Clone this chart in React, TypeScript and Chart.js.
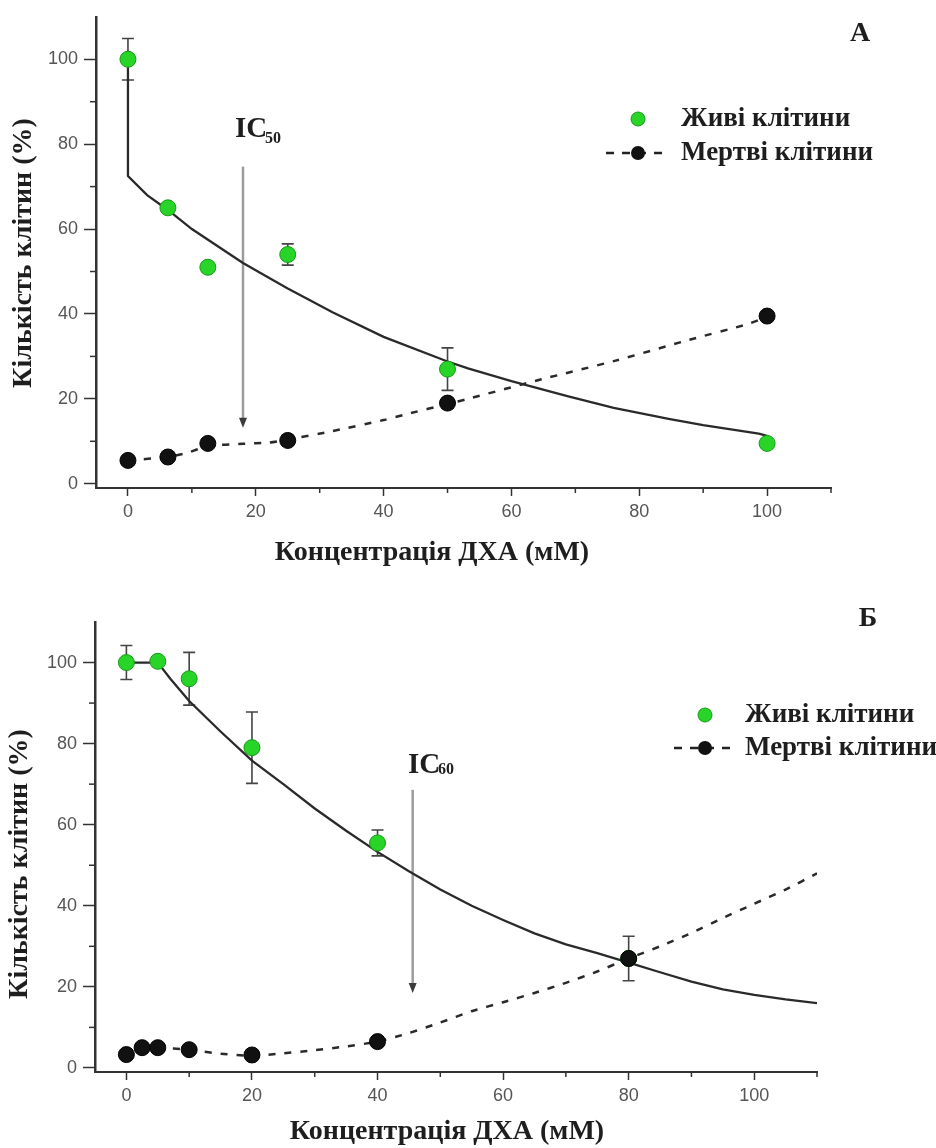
import React, { useEffect, useRef } from 'react';
import { Chart, registerables } from 'chart.js';

Chart.register(...registerables);

// ---------- Panel A data ----------
const concA = [0, 6.25, 12.5, 25, 50, 100];
const liveA = [100, 65, 51, 54, 27, 9.5];
const liveErrA = [4.9, 0.6, 1, 2.5, 5, 0.6];
const deadA = [5.5, 6.3, 9.5, 10.2, 19, 39.5];
const deadErrA = [0.6, 0.6, 0.8, 1.2, 1.2, 0.8];
const liveFitXA = [0, 0, 3, 6.25, 10, 15, 18, 21.7, 25, 28.4, 32, 40, 50, 53.2, 60, 68.9, 76, 84.6, 90, 98.7, 100];
const liveFitYA = [100, 72.5, 68, 64.5, 60, 55, 52, 48.8, 46, 43.3, 40.4, 34.6, 28.8, 27.2, 24.2, 20.6, 17.9, 15.3, 13.8, 11.8, 11.3];
const deadFitXA = [0, 6.25, 9.3, 12.5, 18, 22, 25, 32, 40, 43.6, 50, 53.2, 64.7, 76.3, 87.8, 96.7, 100];
const deadFitYA = [5.5, 6.3, 7.3, 8.9, 9.4, 9.7, 10.4, 12.4, 15, 16.4, 18.8, 20, 24.6, 29, 33.9, 37.5, 39.3];

// ---------- Panel B data ----------
const concLiveB = [0, 5, 10, 20, 40, 80];
const liveB = [100, 100.3, 96, 79, 55.5, 27];
const liveErrB = [4.2, 0.6, 6.5, 8.8, 3.2, 5.5];
const concDeadB = [0, 2.5, 5, 10, 20, 40, 80];
const deadB = [3.3, 5, 5, 4.5, 3.2, 6.5, 27];
const deadErrB = [0.8, 0.5, 0.5, 0.8, 0.8, 1, 0];
const liveFitXB = [0, 5, 7, 10, 15, 20, 25, 30, 35, 40, 45, 50, 55, 60, 65, 70, 75, 80, 85, 90, 95, 100, 105, 110];
const liveFitYB = [100, 100, 96, 90.5, 83, 75.8, 70, 64, 58.5, 53.3, 48.5, 44, 40, 36.5, 33.2, 30.5, 28.3, 26, 23.6, 21.3, 19.4, 18, 16.9, 16];
const deadFitXB = [0, 2.5, 5, 10, 15, 20, 25, 30, 35, 40, 45, 50, 55, 60, 65, 70, 75, 80, 85, 90, 95, 100, 105, 110];
const deadFitYB = [3.3, 5, 5, 4.5, 3.5, 3, 3.6, 4.4, 5.3, 6.5, 8.6, 11.2, 14, 16.2, 18.5, 21, 23.8, 27, 30, 33.3, 37, 40.5, 44, 48];

// ---------- Axes / labels ----------
const xTickValues = [0, 20, 40, 60, 80, 100];
const yTickValues = [0, 20, 40, 60, 80, 100];
const xMinorValues = [10, 30, 50, 70, 90, 110];
const yMinorValues = [10, 30, 50, 70, 90];
const xTitle = 'Концентрація ДХА (мМ)';
const yTitle = 'Кількість клітин (%)';
const liveLabel = 'Живі клітини';
const deadLabel = 'Мертві клітини';

const SERIF = '"Liberation Serif", "Times New Roman", serif';
const SANS = '"Liberation Sans", Arial, sans-serif';
const GREEN = '#27d427';
const GREEN_EDGE = '#169a16';
const INK = '#1e1e1e';

type Panel = {
  letter: string;
  liveX: number[]; liveY: number[]; liveErr: number[];
  deadX: number[]; deadY: number[]; deadErr: number[];
  liveFitX: number[]; liveFitY: number[];
  deadFitX: number[]; deadFitY: number[];
  icValue: number; icTop: number; icBottom: number; icSub: string;
  layout: {
    padTop: number; padRight: number; yW: number; xH: number;
    xTitle: [number, number]; yTitle: [number, number];
    letter: [number, number];
    legMarkerX: number; legRow1: number; legRow2: number; legTextX: number; legDash: [number, number];
    icText: [number, number]; icSubText: [number, number];
  };
};

const panelA: Panel = {
  letter: 'А',
  liveX: concA, liveY: liveA, liveErr: liveErrA,
  deadX: concA, deadY: deadA, deadErr: deadErrA,
  liveFitX: liveFitXA, liveFitY: liveFitYA,
  deadFitX: deadFitXA, deadFitY: deadFitYA,
  icValue: 18, icTop: 74.7, icBottom: 13.2, icSub: '50',
  layout: {
    padTop: 15, padRight: 105, yW: 96, xH: 92,
    xTitle: [432, 553], yTitle: [24, 253],
    letter: [860, 34],
    legMarkerX: 638, legRow1: 119, legRow2: 153, legTextX: 681, legDash: [606, 669],
    icText: [235, 137], icSubText: [265, 143],
  },
};

const panelB: Panel = {
  letter: 'Б',
  liveX: concLiveB, liveY: liveB, liveErr: liveErrB,
  deadX: concDeadB, deadY: deadB, deadErr: deadErrB,
  liveFitX: liveFitXB, liveFitY: liveFitYB,
  deadFitX: deadFitXB, deadFitY: deadFitYB,
  icValue: 45.6, icTop: 68.6, icBottom: 18.5, icSub: '60',
  layout: {
    padTop: 42, padRight: 119, yW: 95, xH: 76,
    xTitle: [447, 552], yTitle: [20, 284],
    letter: [868, 39],
    legMarkerX: 705, legRow1: 135, legRow2: 168, legTextX: 745, legDash: [674, 732],
    icText: [408, 193], icSubText: [438, 194],
  },
};

const pts = (xs: number[], ys: number[]) => xs.map((x, i) => ({ x, y: ys[i] }));

function panelPlugin(p: Panel) {
  const L = p.layout;
  return {
    id: 'panelDecor' + (p === panelA ? 'A' : 'B'),
    beforeDatasetsDraw(chart: any) {
      const { ctx, scales } = chart;
      const x = scales.x, y = scales.y;
      ctx.save();
      // IC arrow
      const ax = x.getPixelForValue(p.icValue);
      const ay1 = y.getPixelForValue(p.icTop);
      const ay2 = y.getPixelForValue(p.icBottom);
      ctx.strokeStyle = '#9c9c9c';
      ctx.lineWidth = 2.5;
      ctx.beginPath();
      ctx.moveTo(ax, ay1);
      ctx.lineTo(ax, ay2 - 8);
      ctx.stroke();
      ctx.fillStyle = '#3a3a3a';
      ctx.beginPath();
      ctx.moveTo(ax - 4, ay2 - 10);
      ctx.lineTo(ax + 4, ay2 - 10);
      ctx.lineTo(ax, ay2);
      ctx.closePath();
      ctx.fill();
      // error bars
      const drawErr = (xs: number[], ys: number[], es: number[], color: string) => {
        ctx.strokeStyle = color;
        ctx.lineWidth = 1.6;
        xs.forEach((xv, i) => {
          const e = es[i];
          if (!e) return;
          const px = x.getPixelForValue(xv);
          const top = y.getPixelForValue(ys[i] + e);
          const bot = y.getPixelForValue(ys[i] - e);
          ctx.beginPath();
          ctx.moveTo(px, top); ctx.lineTo(px, bot);
          ctx.moveTo(px - 6, top); ctx.lineTo(px + 6, top);
          ctx.moveTo(px - 6, bot); ctx.lineTo(px + 6, bot);
          ctx.stroke();
        });
      };
      drawErr(p.liveX, p.liveY, p.liveErr, '#444');
      drawErr(p.deadX, p.deadY, p.deadErr, '#444');
      ctx.restore();
    },
    afterDraw(chart: any) {
      const { ctx, scales, chartArea } = chart;
      const x = scales.x, y = scales.y;
      ctx.save();
      // minor ticks
      ctx.strokeStyle = '#333';
      ctx.lineWidth = 1.5;
      xMinorValues.forEach((v) => {
        const px = x.getPixelForValue(v);
        ctx.beginPath();
        ctx.moveTo(px, chartArea.bottom);
        ctx.lineTo(px, chartArea.bottom + 5);
        ctx.stroke();
      });
      yMinorValues.forEach((v) => {
        const py = y.getPixelForValue(v);
        ctx.beginPath();
        ctx.moveTo(chartArea.left, py);
        ctx.lineTo(chartArea.left - 6, py);
        ctx.stroke();
      });
      ctx.fillStyle = INK;
      // axis titles
      ctx.font = `bold 28px ${SERIF}`;
      ctx.textAlign = 'center';
      ctx.textBaseline = 'middle';
      ctx.fillText(xTitle, L.xTitle[0], L.xTitle[1]);
      ctx.save();
      ctx.translate(L.yTitle[0], L.yTitle[1]);
      ctx.rotate(-Math.PI / 2);
      ctx.fillText(yTitle, 0, 0);
      ctx.restore();
      // panel letter
      ctx.font = `bold 28px ${SERIF}`;
      ctx.fillText(p.letter, L.letter[0], L.letter[1]);
      // legend
      ctx.beginPath();
      ctx.fillStyle = GREEN;
      ctx.strokeStyle = GREEN_EDGE;
      ctx.lineWidth = 1;
      ctx.arc(L.legMarkerX, L.legRow1, 7, 0, Math.PI * 2);
      ctx.fill();
      ctx.stroke();
      ctx.strokeStyle = '#222';
      ctx.lineWidth = 2.5;
      ctx.setLineDash([8, 8]);
      ctx.beginPath();
      ctx.moveTo(L.legDash[0], L.legRow2);
      ctx.lineTo(L.legDash[1], L.legRow2);
      ctx.stroke();
      ctx.setLineDash([]);
      ctx.fillStyle = '#111';
      ctx.beginPath();
      ctx.arc(L.legMarkerX, L.legRow2, 7, 0, Math.PI * 2);
      ctx.fill();
      ctx.fillStyle = INK;
      ctx.font = `bold 27px ${SERIF}`;
      ctx.textAlign = 'left';
      ctx.fillText(liveLabel, L.legTextX, L.legRow1);
      ctx.fillText(deadLabel, L.legTextX, L.legRow2);
      // IC label
      ctx.textBaseline = 'alphabetic';
      ctx.font = `bold 29px ${SERIF}`;
      ctx.fillText('IC', L.icText[0], L.icText[1]);
      ctx.font = `bold 16px ${SERIF}`;
      ctx.fillText(p.icSub, L.icSubText[0], L.icSubText[1]);
      ctx.restore();
    },
  };
}

function buildConfig(p: Panel): any {
  const L = p.layout;
  return {
    type: 'scatter',
    data: {
      datasets: [
        {
          label: deadLabel,
          data: pts(p.deadX, p.deadY),
          pointRadius: 8,
          pointBackgroundColor: '#111',
          pointBorderColor: '#000',
          pointBorderWidth: 1,
          showLine: false,
        },
        {
          label: liveLabel,
          data: pts(p.liveX, p.liveY),
          pointRadius: 8,
          pointBackgroundColor: GREEN,
          pointBorderColor: GREEN_EDGE,
          pointBorderWidth: 1,
          showLine: false,
        },
        {
          label: 'fit live',
          data: pts(p.liveFitX, p.liveFitY),
          showLine: true,
          borderColor: '#2a2a2a',
          borderWidth: 2.3,
          pointRadius: 0,
          tension: 0,
        },
        {
          label: 'fit dead',
          data: pts(p.deadFitX, p.deadFitY),
          showLine: true,
          borderColor: '#2a2a2a',
          borderWidth: 2.5,
          borderDash: [7, 9],
          pointRadius: 0,
          tension: 0.2,
        },
      ],
    },
    options: {
      responsive: false,
      animation: false,
      devicePixelRatio: 1,
      layout: { padding: { left: 0, top: L.padTop, right: L.padRight, bottom: 0 } },
      plugins: { legend: { display: false }, tooltip: { enabled: false } },
      scales: {
        x: {
          type: 'linear',
          min: -5,
          max: 110,
          afterFit: (s: any) => { s.height = L.xH; },
          afterBuildTicks: (s: any) => { s.ticks = xTickValues.map((v) => ({ value: v })); },
          grid: { drawOnChartArea: false, drawTicks: true, tickLength: 8, tickColor: '#333', tickWidth: 1.5 },
          border: { display: true, color: '#333', width: 2 },
          ticks: { font: { family: SANS, size: 18 }, color: '#555', padding: 5, maxRotation: 0, autoSkip: false },
        },
        y: {
          type: 'linear',
          min: -1,
          max: 110,
          afterFit: (s: any) => { s.width = L.yW; },
          afterBuildTicks: (s: any) => { s.ticks = yTickValues.map((v) => ({ value: v })); },
          grid: { drawOnChartArea: false, drawTicks: true, tickLength: 12, tickColor: '#333', tickWidth: 1.5 },
          border: { display: true, color: '#333', width: 2.5 },
          ticks: { font: { family: SANS, size: 18 }, color: '#555', padding: 6, autoSkip: false },
        },
      },
    },
    plugins: [panelPlugin(p)],
  };
}

export default function App() {
  const refA = useRef<HTMLCanvasElement>(null);
  const refB = useRef<HTMLCanvasElement>(null);
  useEffect(() => {
    const a = new Chart(refA.current as HTMLCanvasElement, buildConfig(panelA));
    const b = new Chart(refB.current as HTMLCanvasElement, buildConfig(panelB));
    return () => {
      a.destroy();
      b.destroy();
    };
  }, []);
  return (
    <div style={{ position: 'absolute', left: 0, top: 0, width: 936, height: 1148, background: '#fff' }}>
      <canvas ref={refA} width={936} height={580} style={{ position: 'absolute', left: 0, top: 0, display: 'block' }} />
      <canvas ref={refB} width={936} height={568} style={{ position: 'absolute', left: 0, top: 580, display: 'block' }} />
    </div>
  );
}
